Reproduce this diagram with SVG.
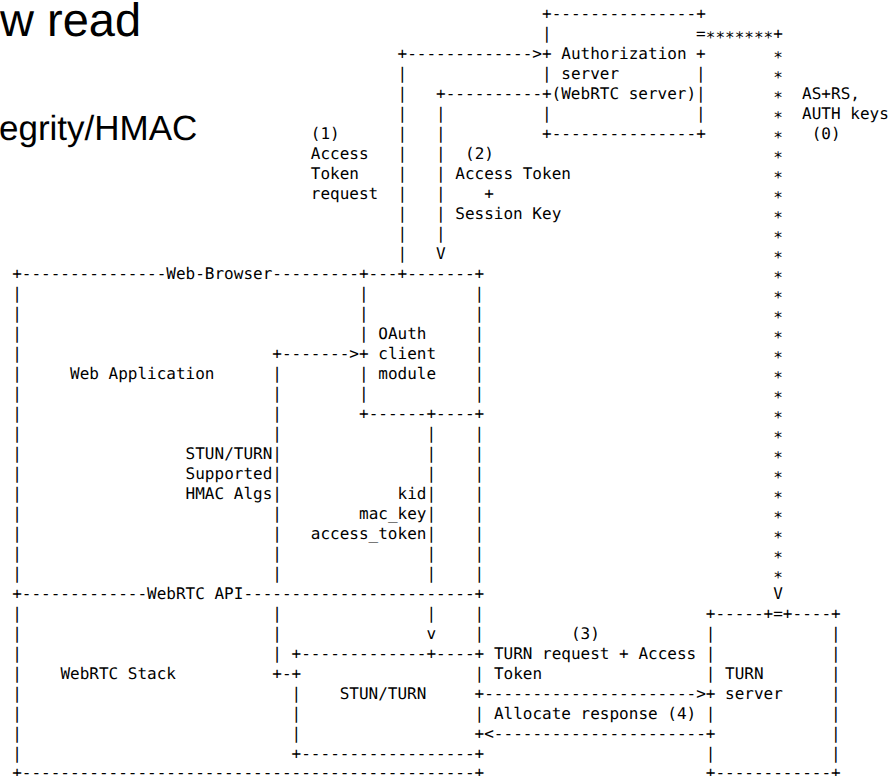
<svg xmlns="http://www.w3.org/2000/svg" width="889" height="776" viewBox="0 0 889 776">
<style>
.m{font-family:"DejaVu Sans Mono","Liberation Mono",monospace;font-size:16px;fill:#000;white-space:pre}
.s{font-family:"Liberation Sans",Arial,sans-serif;fill:#000}
.st{font-family:"DejaVu Sans Mono","Liberation Mono",monospace;font-size:16px;fill:#000}
#all{opacity:0.999}
</style>
<rect width="889" height="776" fill="#fff"/>
<g id="all" text-rendering="geometricPrecision">
<g id="slide-text">
<text class="s" x="0" y="36" font-size="47">w read</text>
<text class="s" x="-1" y="140" font-size="35">egrity/HMAC</text>
</g>
<g id="auth-server">
<text class="m" x="542.0" y="19">+---------------+</text>
<text class="m"><tspan x="542.0" y="39">|</tspan><tspan x="542.0" y="59">+</tspan><tspan x="542.0" y="79">|</tspan><tspan x="542.0" y="99">+</tspan><tspan x="542.0" y="119">|</tspan></text>
<text class="m"><tspan x="696.1" y="59">+</tspan><tspan x="696.1" y="79">|</tspan><tspan x="696.1" y="99">|</tspan><tspan x="696.1" y="119">|</tspan></text>
<text class="m" x="542.0" y="139">+---------------+</text>
<text class="m" x="561.3" y="59">Authorization</text>
<text class="m" x="561.3" y="79">server</text>
<text class="m" x="551.6" y="99">(WebRTC server)</text>
</g>
<g id="web-browser">
<text class="m" x="12.2" y="279">+---------------Web-Browser---------+---+-------+</text>
<text class="m"><tspan x="12.2" y="299">|</tspan><tspan x="12.2" y="319">|</tspan><tspan x="12.2" y="339">|</tspan><tspan x="12.2" y="359">|</tspan><tspan x="12.2" y="379">|</tspan><tspan x="12.2" y="399">|</tspan><tspan x="12.2" y="419">|</tspan><tspan x="12.2" y="439">|</tspan><tspan x="12.2" y="459">|</tspan><tspan x="12.2" y="479">|</tspan><tspan x="12.2" y="499">|</tspan><tspan x="12.2" y="519">|</tspan><tspan x="12.2" y="539">|</tspan><tspan x="12.2" y="559">|</tspan><tspan x="12.2" y="579">|</tspan></text>
<text class="m"><tspan x="474.6" y="299">|</tspan><tspan x="474.6" y="319">|</tspan><tspan x="474.6" y="339">|</tspan><tspan x="474.6" y="359">|</tspan><tspan x="474.6" y="379">|</tspan><tspan x="474.6" y="399">|</tspan><tspan x="474.6" y="439">|</tspan><tspan x="474.6" y="459">|</tspan><tspan x="474.6" y="479">|</tspan><tspan x="474.6" y="499">|</tspan><tspan x="474.6" y="519">|</tspan><tspan x="474.6" y="539">|</tspan><tspan x="474.6" y="559">|</tspan><tspan x="474.6" y="579">|</tspan></text>
<text class="m" x="70.0" y="379">Web Application</text>
</g>
<g id="oauth-client-module">
<text class="m"><tspan x="359.0" y="299">|</tspan><tspan x="359.0" y="319">|</tspan><tspan x="359.0" y="339">|</tspan><tspan x="359.0" y="359">+</tspan><tspan x="359.0" y="379">|</tspan><tspan x="359.0" y="399">|</tspan></text>
<text class="m" x="359.0" y="419">+------+----+</text>
<text class="m" x="378.3" y="339">OAuth</text>
<text class="m" x="378.3" y="359">client</text>
<text class="m" x="378.3" y="379">module</text>
</g>
<g id="webrtc-stack">
<text class="m" x="12.2" y="599">+-------------WebRTC API------------------------+</text>
<text class="m"><tspan x="12.2" y="619">|</tspan><tspan x="12.2" y="639">|</tspan><tspan x="12.2" y="659">|</tspan><tspan x="12.2" y="679">|</tspan><tspan x="12.2" y="699">|</tspan><tspan x="12.2" y="719">|</tspan><tspan x="12.2" y="739">|</tspan><tspan x="12.2" y="759">|</tspan></text>
<text class="m"><tspan x="474.6" y="619">|</tspan><tspan x="474.6" y="639">|</tspan><tspan x="474.6" y="679">|</tspan><tspan x="474.6" y="719">|</tspan></text>
<text class="m" x="12.2" y="778">+-----------------------------------------------+</text>
<text class="m" x="60.4" y="679">WebRTC Stack</text>
</g>
<g id="stun-turn">
<text class="m" x="291.6" y="659">+-------------+----+</text>
<text class="m"><tspan x="291.6" y="679">+</tspan><tspan x="291.6" y="699">|</tspan><tspan x="291.6" y="719">|</tspan><tspan x="291.6" y="739">|</tspan></text>
<text class="m" x="291.6" y="759">+------------------+</text>
<text class="m" x="339.7" y="699">STUN/TURN</text>
</g>
<g id="turn-server">
<text class="m" x="705.8" y="619">+-----+=+----+</text>
<text class="m"><tspan x="705.8" y="639">|</tspan><tspan x="705.8" y="659">|</tspan><tspan x="705.8" y="679">|</tspan><tspan x="705.8" y="699">+</tspan><tspan x="705.8" y="719">|</tspan><tspan x="705.8" y="739">+</tspan><tspan x="705.8" y="759">|</tspan></text>
<text class="m"><tspan x="831.0" y="639">|</tspan><tspan x="831.0" y="659">|</tspan><tspan x="831.0" y="679">|</tspan><tspan x="831.0" y="699">|</tspan><tspan x="831.0" y="719">|</tspan><tspan x="831.0" y="739">|</tspan><tspan x="831.0" y="759">|</tspan></text>
<text class="m" x="705.8" y="778">+------------+</text>
<text class="m" x="725.0" y="679">TURN</text>
<text class="m" x="725.0" y="699">server</text>
</g>
<g id="connectors">
<g id="c1-access-token-request">
<text class="m" x="397.5" y="59">+-------------&gt;</text>
<text class="m"><tspan x="397.5" y="79">|</tspan><tspan x="397.5" y="99">|</tspan><tspan x="397.5" y="119">|</tspan><tspan x="397.5" y="139">|</tspan><tspan x="397.5" y="159">|</tspan><tspan x="397.5" y="179">|</tspan><tspan x="397.5" y="199">|</tspan><tspan x="397.5" y="219">|</tspan><tspan x="397.5" y="239">|</tspan><tspan x="397.5" y="259">|</tspan></text>
<text class="m" x="310.8" y="139">(1)</text>
<text class="m" x="310.8" y="159">Access</text>
<text class="m" x="310.8" y="179">Token</text>
<text class="m" x="310.8" y="199">request</text>
</g>
<g id="c2-access-token-session-key">
<text class="m" x="436.1" y="99">+----------</text>
<text class="m"><tspan x="436.1" y="119">|</tspan><tspan x="436.1" y="139">|</tspan><tspan x="436.1" y="159">|</tspan><tspan x="436.1" y="179">|</tspan><tspan x="436.1" y="199">|</tspan><tspan x="436.1" y="219">|</tspan><tspan x="436.1" y="239">|</tspan><tspan x="436.1" y="259">V</tspan></text>
<text class="m" x="465.0" y="159">(2)</text>
<text class="m" x="455.3" y="179">Access Token</text>
<text class="m" x="484.2" y="199">+</text>
<text class="m" x="455.3" y="219">Session Key</text>
</g>
<g id="c-webapp-oauth">
<text class="m" x="272.3" y="359">+-------&gt;</text>
<text class="m"><tspan x="272.3" y="379">|</tspan><tspan x="272.3" y="399">|</tspan><tspan x="272.3" y="419">|</tspan><tspan x="272.3" y="439">|</tspan><tspan x="272.3" y="459">|</tspan><tspan x="272.3" y="479">|</tspan><tspan x="272.3" y="499">|</tspan><tspan x="272.3" y="519">|</tspan><tspan x="272.3" y="539">|</tspan><tspan x="272.3" y="559">|</tspan><tspan x="272.3" y="579">|</tspan><tspan x="272.3" y="619">|</tspan><tspan x="272.3" y="639">|</tspan><tspan x="272.3" y="659">|</tspan></text>
<text class="m" x="272.3" y="679">+-</text>
<text class="m" x="185.6" y="459">STUN/TURN</text>
<text class="m" x="185.6" y="479">Supported</text>
<text class="m" x="185.6" y="499">HMAC Algs</text>
</g>
<g id="c-oauth-stun">
<text class="m"><tspan x="426.4" y="439">|</tspan><tspan x="426.4" y="459">|</tspan><tspan x="426.4" y="479">|</tspan><tspan x="426.4" y="499">|</tspan><tspan x="426.4" y="519">|</tspan><tspan x="426.4" y="539">|</tspan><tspan x="426.4" y="559">|</tspan><tspan x="426.4" y="579">|</tspan><tspan x="426.4" y="619">|</tspan><tspan x="426.4" y="639">v</tspan></text>
<text class="m" x="397.5" y="499">kid</text>
<text class="m" x="359.0" y="519">mac_key</text>
<text class="m" x="310.8" y="539">access_token</text>
</g>
<g id="c0-as-rs-keys">
<text class="m" x="696.1" y="39">=</text>
<text class="m" x="773.2" y="39">+</text>
<g transform="translate(0,4)">
<text class="m" x="705.8" y="39">*******</text>
<text class="st"><tspan x="773.2" y="59">*</tspan><tspan x="773.2" y="79">*</tspan><tspan x="773.2" y="99">*</tspan><tspan x="773.2" y="119">*</tspan><tspan x="773.2" y="139">*</tspan><tspan x="773.2" y="159">*</tspan><tspan x="773.2" y="179">*</tspan><tspan x="773.2" y="199">*</tspan><tspan x="773.2" y="219">*</tspan><tspan x="773.2" y="239">*</tspan><tspan x="773.2" y="259">*</tspan><tspan x="773.2" y="279">*</tspan><tspan x="773.2" y="299">*</tspan><tspan x="773.2" y="319">*</tspan><tspan x="773.2" y="339">*</tspan><tspan x="773.2" y="359">*</tspan><tspan x="773.2" y="379">*</tspan><tspan x="773.2" y="399">*</tspan><tspan x="773.2" y="419">*</tspan><tspan x="773.2" y="439">*</tspan><tspan x="773.2" y="459">*</tspan><tspan x="773.2" y="479">*</tspan><tspan x="773.2" y="499">*</tspan><tspan x="773.2" y="519">*</tspan><tspan x="773.2" y="539">*</tspan><tspan x="773.2" y="559">*</tspan><tspan x="773.2" y="579">*</tspan></text>
</g>
<text class="m" x="773.2" y="599">V</text>
<text class="m" x="802.1" y="99">AS+RS,</text>
<text class="m" x="802.1" y="119">AUTH keys</text>
<text class="m" x="811.7" y="139">(0)</text>
</g>
<g id="c3-turn-request">
<text class="m" x="474.6" y="699">+----------------------&gt;</text>
<text class="m" x="570.9" y="639">(3)</text>
<text class="m" x="493.9" y="659">TURN request + Access</text>
<text class="m" x="493.9" y="679">Token</text>
</g>
<g id="c4-allocate-response">
<text class="m" x="474.6" y="739">+&lt;----------------------</text>
<text class="m" x="493.9" y="719">Allocate response (4)</text>
</g>
</g>
</g>
</svg>
